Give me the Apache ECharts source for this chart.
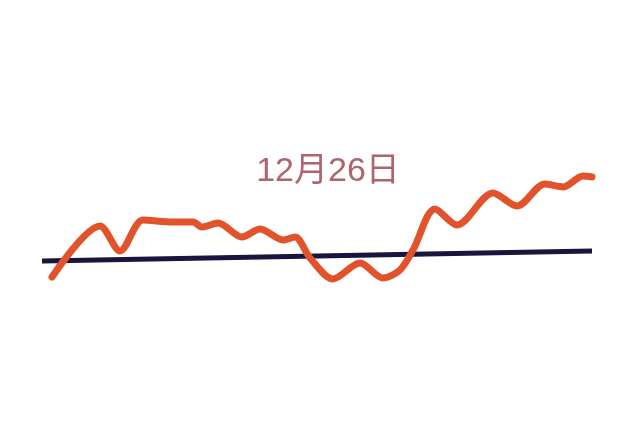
<!DOCTYPE html>
<html><head><meta charset="utf-8">
<script src="https://cdn.jsdelivr.net/npm/echarts@6/dist/echarts.min.js"></script>
<style>html,body{margin:0;padding:0;background:#fff}#c{width:640px;height:445px}</style>
</head><body><div id="c"></div>
<script>
const titleText = '12月26日';
const trendX = [10, 58, 78, 101, 131, 151, 160, 176, 200, 218, 241, 253, 268, 291, 318, 341, 358, 371, 393, 415, 451, 475, 503, 521, 541, 550];
const trendY = [23, 74, 49, 80, 78, 78, 73, 77, 63, 71, 60, 63, 42, 21, 37, 22, 30, 50, 91, 75, 107, 94, 116, 113, 124, 123];
const baseX = [0, 550];
const baseY = [39, 49];

const chart = echarts.init(document.getElementById('c'));
chart.setOption({
  backgroundColor: '#ffffff',
  animation: false,
  title: {
    text: titleText, left: 323, top: 150, textAlign: 'center',
    textStyle: { color: '#ad646d', fontSize: 34, lineHeight: 34, fontWeight: 'normal', fontFamily: '"Liberation Sans", "Noto Sans CJK SC"' }
  },
  grid: { left: 42, right: 48, top: 100, bottom: 145 },
  xAxis: { type: 'value', min: 0, max: 550, show: false },
  yAxis: { type: 'value', min: 0, max: 200, show: false },
  series: [
    {
      type: 'line', data: baseX.map((x, i) => [x, baseY[i]]), symbol: 'none',
      lineStyle: { color: '#18153f', width: 5 }, z: 2
    },
    {
      type: 'line', data: trendX.map((x, i) => [x, trendY[i]]), symbol: 'none', smooth: 0.3,
      lineStyle: { color: '#e2522b', width: 7, cap: 'round', join: 'round' }, z: 3
    }
  ]
});
</script></body></html>
